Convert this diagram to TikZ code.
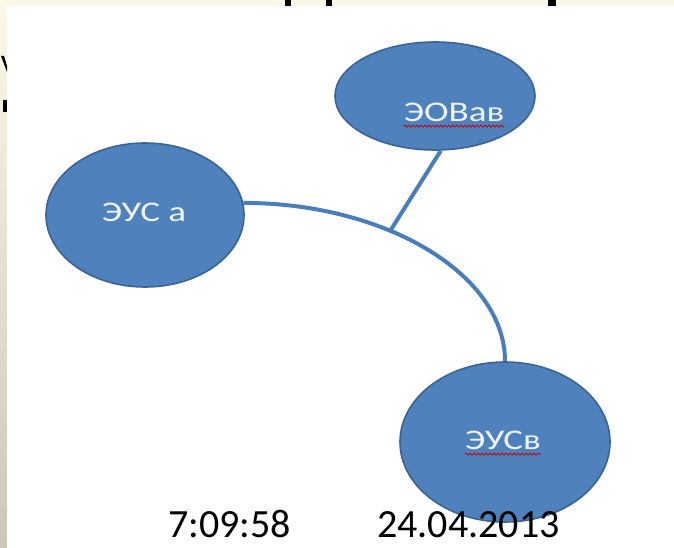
\documentclass[tikz,border=0pt]{standalone}
\usepackage{fontspec}
\setmainfont{Carlito}
\newfontfamily\widefont[FakeStretch=1.3]{Carlito}
\usetikzlibrary{shapes.geometric,decorations.pathmorphing,calc}
\definecolor{cream}{HTML}{FCF8E7}
\definecolor{creamdark}{HTML}{CBC8B5}
\definecolor{ellfill}{HTML}{4F81BD}
\definecolor{elldraw}{HTML}{3A6396}
\definecolor{linkcol}{HTML}{4A7EBB}
\definecolor{labcol}{HTML}{EEF3FA}
\tikzset{
  bubble/.style={ellipse, fill=ellfill, draw=elldraw, line width=1.6pt, inner sep=0pt},
  bublabel/.style={text=labcol, font=\widefont\fontsize{28.5}{32}\selectfont, inner sep=0pt},
  link/.style={draw=linkcol, line width=4pt},
  spell/.style={draw=red!80!black, line width=0.8pt, decorate, decoration={snake, amplitude=1.1pt, segment length=4pt}},
  stamp/.style={text=black, font=\fontsize{40}{46}\selectfont, inner sep=0pt, anchor=base west},
  blackmark/.style={fill=black, draw=none}
}
\begin{document}
\begin{tikzpicture}[x=1pt,y=-1pt]
\useasboundingbox (0,0) rectangle (674,548);
% background
\fill[cream] (0,0) rectangle (674,548);
\shade[top color=cream, bottom color=creamdark] (0,0) rectangle (7,548);
\fill[white] (7,6) rectangle (674,548);
% cut-off title fragments
\fill[blackmark] (285,0) rectangle (291,6);
\fill[blackmark] (326,0) rectangle (332,6);
\fill[blackmark] (548,0) rectangle (556,6);
\fill[blackmark] (1,56) -- (4,56) -- (7,66) -- (7,72) -- cycle;
\fill[blackmark] (3,100) rectangle (7,112);
% ellipses
\node[bubble, minimum width=198pt, minimum height=144pt] (a) at (145,215) {};
\node[bubble, minimum width=200pt, minimum height=108pt] (c) at (435,96) {};
\node[bubble, minimum width=210pt, minimum height=160pt] (b) at (505,442) {};
% labels
\node[bublabel] (la) at (144,212) {ЭУС а};
\node[bublabel] (lc) at (454,112) {ЭОВав};
\node[bublabel] (lb) at (503,440) {ЭУСв};
\draw[spell] ($(lc.base west)+(0,5)$) -- ($(lc.base east)+(0,5)$);
\draw[spell] ($(lb.base west)+(0,5)$) -- ($(lb.base east)+(0,5)$);
% connectors
\draw[link] (a.7) .. controls +(142,0) and +(0,-87) .. (b.north)
  coordinate[pos=0.38] (j);
\draw[link] (j) -- (c.-84);
% date / time
\node[stamp] (t1) at (168,537) {7:09:58};
\node[stamp] (t2) at (377,537) {24.04.2013};
\end{tikzpicture}
\end{document}
